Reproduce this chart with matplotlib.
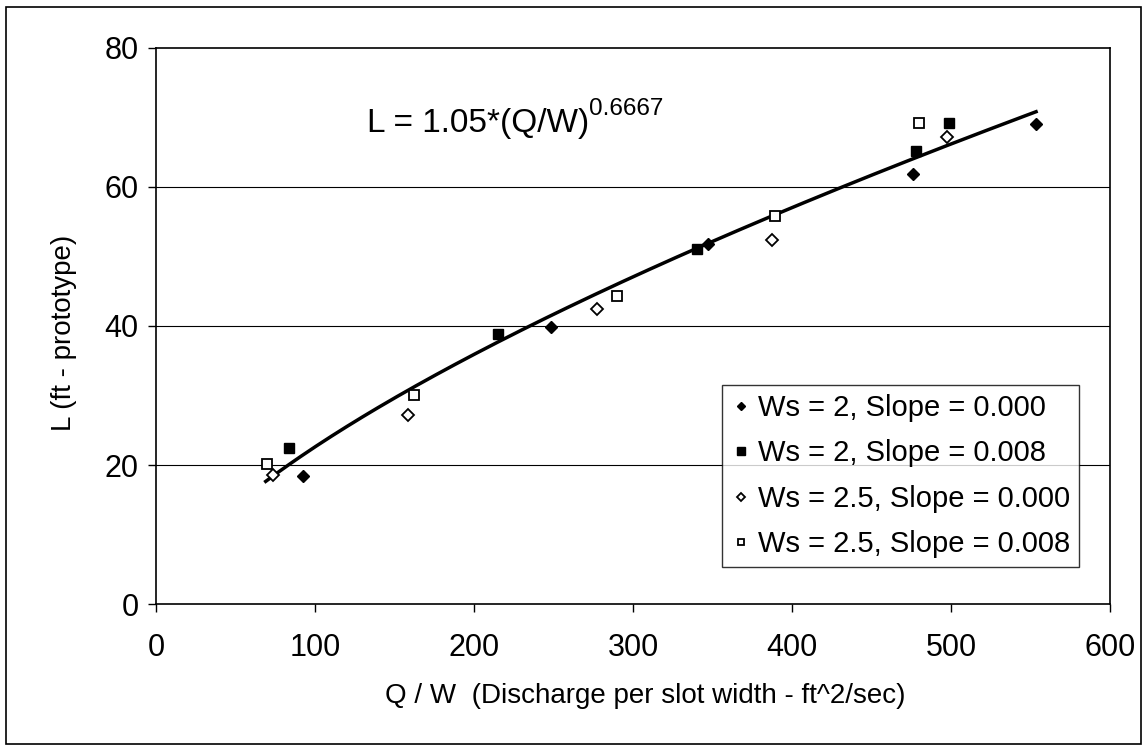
import numpy as np
import matplotlib
matplotlib.use("Agg")
import matplotlib.pyplot as plt
from matplotlib.patches import Rectangle

# ---- data ----
labels = ["Ws = 2, Slope = 0.000", "Ws = 2, Slope = 0.008",
          "Ws = 2.5, Slope = 0.000", "Ws = 2.5, Slope = 0.008"]

ws2_s0_x = [92.6, 248.2, 347.4, 476.3, 553.5]
ws2_s0_y = [18.5, 39.9, 51.8, 61.9, 69.1]

ws2_s8_x = [83.8, 215.3, 340.5, 478.0, 499.0]
ws2_s8_y = [22.4, 38.8, 51.0, 65.2, 69.2]

ws25_s0_x = [73.4, 158.3, 277.5, 387.2, 497.3]
ws25_s0_y = [18.6, 27.2, 42.4, 52.4, 67.2]

ws25_s8_x = [70.0, 162.3, 289.7, 389.3, 480.1]
ws25_s8_y = [20.1, 30.1, 44.3, 55.8, 69.2]

# trend line printed on the chart: L = 1.05*(Q/W)^0.6667
coef_a = 1.05
coef_b = 0.6667
fit_xmin, fit_xmax = 69.0, 553.5

x_ticks = [0, 100, 200, 300, 400, 500, 600]
y_ticks = [0, 20, 40, 60, 80]

# ---- style ----
plt.rcParams['font.family'] = ['Liberation Sans', 'DejaVu Sans']

W, H = 1144, 747
fig = plt.figure(figsize=(W / 100, H / 100), dpi=100)

# outer chart-area frame
fig.patches.append(Rectangle((6 / W, 1 - 744 / H), (1141 - 6) / W, (744 - 7) / H,
                             transform=fig.transFigure, fill=False,
                             edgecolor='black', linewidth=1.2))

left, right, top, bottom = 156, 1110, 47.7, 604.3
ax = fig.add_axes([left / W, 1 - bottom / H, (right - left) / W, (bottom - top) / H])

ax.set_xlim(0, 600)
ax.set_ylim(0, 80)
ax.set_xticks(x_ticks)
ax.set_yticks(y_ticks)
ax.tick_params(axis='both', direction='out', length=5.5, width=1.0,
               labelsize=22, colors='black')
ax.tick_params(axis='y', pad=7)
ax.tick_params(axis='x', pad=15)
for s in ax.spines.values():
    s.set_linewidth(1.2)
    s.set_color('black')

for yv in y_ticks[1:-1]:
    ax.axhline(yv, color='black', linewidth=0.8, zorder=1)

fx = np.linspace(fit_xmin, fit_xmax, 200)
ax.plot(fx, coef_a * fx ** coef_b, color='black', linewidth=2.5, zorder=2)

ax.plot(ws2_s0_x, ws2_s0_y, linestyle='none', marker='D', markersize=6.4,
        markerfacecolor='black', markeredgecolor='black', markeredgewidth=1.0,
        label=labels[0], zorder=3)
ax.plot(ws2_s8_x, ws2_s8_y, linestyle='none', marker='s', markersize=7.4,
        markerfacecolor='black', markeredgecolor='black', markeredgewidth=1.0,
        label=labels[1], zorder=3)
ax.plot(ws25_s0_x, ws25_s0_y, linestyle='none', marker='D', markersize=6.4,
        markerfacecolor='white', markeredgecolor='black', markeredgewidth=1.3,
        label=labels[2], zorder=3)
ax.plot(ws25_s8_x, ws25_s8_y, linestyle='none', marker='s', markersize=7.0,
        markerfacecolor='white', markeredgecolor='black', markeredgewidth=1.3,
        label=labels[3], zorder=3)

leg = fig.legend(loc='upper left', bbox_to_anchor=(721.7 / W, 1 - 385 / H),
                 bbox_transform=fig.transFigure, borderaxespad=0,
                 fontsize=21, frameon=True, fancybox=False, shadow=False,
                 handlelength=0.7, handletextpad=0.25, borderpad=0.3,
                 labelspacing=0.6, markerscale=0.7)
leg.get_frame().set_edgecolor('black')
leg.get_frame().set_linewidth(1.0)

eq = ax.text(132.5, 67.9, 'L = 1.05*(Q/W)', fontsize=24,
             va='baseline', ha='left')
ax.annotate('0.6667', xy=(1.0, 70.3), xycoords=(eq, 'data'),
            xytext=(0, 0), textcoords='offset points',
            fontsize=17.5, va='baseline', ha='left')

fig.text(645 / W, 1 - 703 / H, 'Q / W  (Discharge per slot width - ft^2/sec)',
         fontsize=20, ha='center', va='baseline')
fig.text(64 / W, 1 - 333 / H, 'L (ft - prototype)', fontsize=20,
         rotation=90, ha='center', va='center')

fig.savefig('out.png', dpi=100)
